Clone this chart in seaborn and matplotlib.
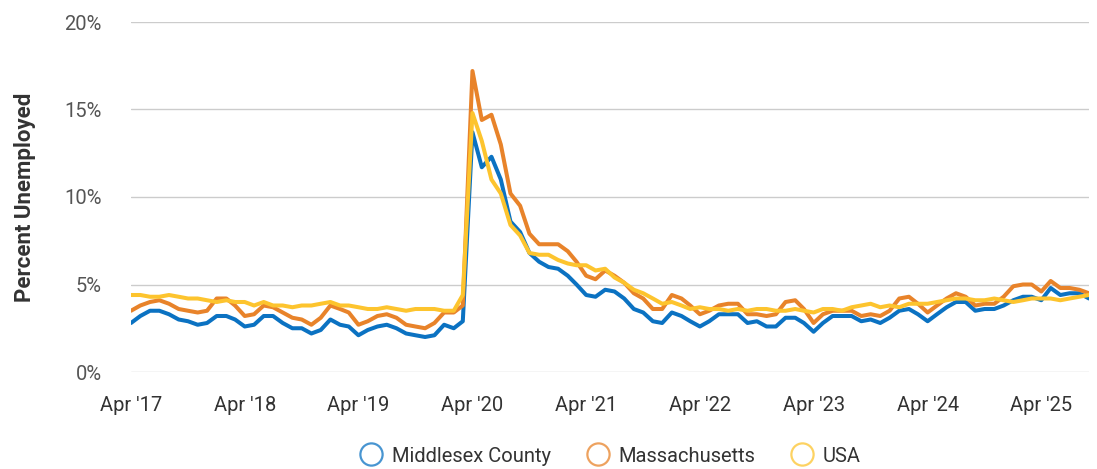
import pandas as pd
import numpy as np
import matplotlib
matplotlib.use('Agg')
import matplotlib.pyplot as plt
from matplotlib.lines import Line2D
import seaborn as sns

# monthly unemployment rate, Apr 2017 - Sep 2025
middlesex = [2.8, 3.2, 3.5, 3.5, 3.3, 3.0, 2.9, 2.7, 2.8, 3.2, 3.2, 3.0,
             2.6, 2.7, 3.2, 3.2, 2.8, 2.5, 2.5, 2.2, 2.4, 3.0, 2.7, 2.6,
             2.1, 2.4, 2.6, 2.7, 2.5, 2.2, 2.1, 2.0, 2.1, 2.7, 2.5, 2.9,
             13.7, 11.7, 12.3, 11.0, 8.6, 8.0, 6.8, 6.3, 6.0, 5.9, 5.5, 5.0,
             4.4, 4.3, 4.7, 4.6, 4.2, 3.6, 3.4, 2.9, 2.8, 3.4, 3.2, 2.9,
             2.6, 2.9, 3.3, 3.3, 3.3, 2.8, 2.9, 2.6, 2.6, 3.1, 3.1, 2.8,
             2.3, 2.8, 3.2, 3.2, 3.2, 2.9, 3.0, 2.8, 3.1, 3.5, 3.6, 3.3,
             2.9, 3.3, 3.7, 4.0, 4.0, 3.5, 3.6, 3.6, 3.8, 4.1, 4.3, 4.3,
             4.1, 4.8, 4.4, 4.5, 4.5, 4.2]
massachusetts = [3.5, 3.8, 4.0, 4.1, 3.9, 3.6, 3.5, 3.4, 3.5, 4.2, 4.2, 3.8,
                 3.2, 3.3, 3.8, 3.7, 3.4, 3.1, 3.0, 2.7, 3.1, 3.8, 3.6, 3.4,
                 2.7, 2.9, 3.2, 3.3, 3.1, 2.7, 2.6, 2.5, 2.8, 3.4, 3.4, 3.8,
                 17.2, 14.4, 14.7, 13.0, 10.2, 9.5, 7.9, 7.3, 7.3, 7.3, 6.9, 6.3,
                 5.5, 5.3, 5.8, 5.5, 5.1, 4.5, 4.2, 3.6, 3.6, 4.4, 4.2, 3.8,
                 3.3, 3.5, 3.8, 3.9, 3.9, 3.3, 3.3, 3.2, 3.3, 4.0, 4.1, 3.6,
                 2.8, 3.3, 3.5, 3.5, 3.5, 3.2, 3.3, 3.2, 3.5, 4.2, 4.3, 3.9,
                 3.4, 3.8, 4.2, 4.5, 4.3, 3.8, 3.9, 3.9, 4.3, 4.9, 5.0, 5.0,
                 4.6, 5.2, 4.8, 4.8, 4.7, 4.5]
usa = [4.4, 4.4, 4.3, 4.3, 4.4, 4.3, 4.2, 4.2, 4.1, 4.0, 4.1, 4.0,
       4.0, 3.8, 4.0, 3.8, 3.8, 3.7, 3.8, 3.8, 3.9, 4.0, 3.8, 3.8,
       3.7, 3.6, 3.6, 3.7, 3.6, 3.5, 3.6, 3.6, 3.6, 3.5, 3.5, 4.4,
       14.8, 13.2, 11.0, 10.2, 8.4, 7.8, 6.8, 6.7, 6.7, 6.4, 6.2, 6.1,
       6.1, 5.8, 5.9, 5.4, 5.1, 4.7, 4.5, 4.2, 3.9, 4.0, 3.8, 3.6,
       3.7, 3.6, 3.6, 3.5, 3.6, 3.5, 3.6, 3.6, 3.5, 3.5, 3.6, 3.5,
       3.4, 3.6, 3.6, 3.5, 3.7, 3.8, 3.9, 3.7, 3.8, 3.7, 3.9, 3.9,
       3.9, 4.0, 4.1, 4.2, 4.2, 4.1, 4.1, 4.2, 4.1, 4.0, 4.1, 4.2,
       4.2, 4.2, 4.1, 4.2, 4.3, 4.4]

series_names = ['Middlesex County', 'Massachusetts', 'USA']
colors = ['#0b72c2', '#e8832a', '#fdc42e']
tick_years = [2017, 2018, 2019, 2020, 2021, 2022, 2023, 2024, 2025]
y_ticks = [0, 5, 10, 15, 20]

months = pd.date_range('2017-04-01', periods=len(usa), freq='MS')
df = pd.concat([
    pd.DataFrame({'month': months, 'rate': vals, 'area': name})
    for name, vals in zip(series_names, [middlesex, massachusetts, usa])
])

sns.set_style('white')
plt.rcParams['font.family'] = ['Roboto', 'DejaVu Sans']

fig = plt.figure(figsize=(10.97, 4.69), dpi=100)
ax = fig.add_axes([131 / 1097, 1 - 372 / 469, 958 / 1097, 350 / 469])

sns.lineplot(data=df, x='month', y='rate', hue='area', palette=colors,
             hue_order=series_names, linewidth=2.9, ax=ax, legend=False)

ax.set_xlim(months[0], months[-1])
ax.set_ylim(0, 20)
ax.set_yticks(y_ticks)
ax.set_yticklabels([f'{t}%' for t in y_ticks], color='#555555', fontsize=14.5)
tick_dates = [pd.Timestamp(f'{y}-04-01') for y in tick_years]
ax.set_xticks(tick_dates)
ax.set_xticklabels([f"Apr '{str(y)[2:]}" for y in tick_years],
                   color='#333333', fontsize=14.5)
ax.tick_params(axis='y', length=0, pad=21)
ax.tick_params(axis='x', length=0, pad=17)

ax.grid(axis='y', color='#cccccc', linewidth=1)
ax.grid(axis='x', visible=False)
for s in ax.spines.values():
    s.set_visible(False)
ax.set_axisbelow(True)

ax.set_xlabel('')
ax.set_ylabel('Percent Unemployed', fontsize=16, fontweight='bold', color='#333333')
ax.yaxis.set_label_coords(-0.099, 0.5)

handles = [Line2D([], [], linestyle='none', marker='o', markersize=16,
                  markerfacecolor='none', markeredgecolor=c, markeredgewidth=1.6,
                  alpha=0.75) for c in colors]
ax.legend(handles, series_names, loc='center', bbox_to_anchor=(0.5, -0.24),
          ncol=3, frameon=False, fontsize=14.5, handlelength=1.2,
          handletextpad=0.45, columnspacing=1.7, labelcolor='#333333')

fig.savefig('out.png', dpi=100)
